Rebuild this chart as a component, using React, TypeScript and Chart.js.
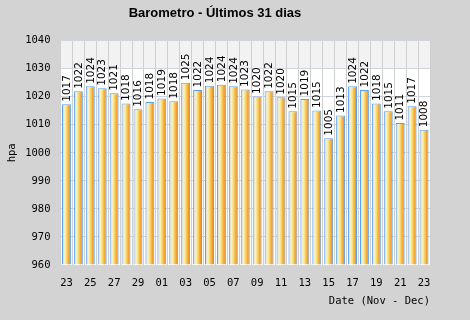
import React, { useEffect, useRef } from "react";
import { Chart, registerables } from "chart.js";

Chart.register(...registerables);

const dates = [
  "23", "24", "25", "26", "27", "28", "29", "30",
  "01", "02", "03", "04", "05", "06", "07", "08", "09", "10",
  "11", "12", "13", "14", "15", "16", "17", "18", "19", "20",
  "21", "22", "23",
];

const pressure = [
  1017.3, 1021.9, 1023.7, 1023.0, 1021.2, 1017.6, 1015.5, 1018.1,
  1019.4, 1018.4, 1025.0, 1022.4, 1023.9, 1024.3, 1023.7, 1022.6,
  1020.1, 1021.9, 1019.8, 1014.8, 1019.2, 1015.1, 1005.2, 1013.3,
  1023.7, 1022.4, 1017.6, 1014.8, 1010.6, 1016.6, 1008.2,
];

const yMin = 960;
const yMax = 1040;
const yStep = 10;

const titleText = "Barometro - Últimos 31 dias";
const yTitle = "hpa";
const xTitle = "Date (Nov - Dec)";

const bandPlugin = {
  id: "bands",
  beforeDraw(chart: any) {
    const { ctx, chartArea, scales } = chart;
    if (!chartArea) return;
    ctx.save();
    ctx.fillStyle = "#d3d3d3";
    ctx.fillRect(0, 0, chart.width, chart.height);
    ctx.fillStyle = "#ffffff";
    ctx.fillRect(chartArea.left, chartArea.top, chartArea.right - chartArea.left, chartArea.bottom - chartArea.top);
    const y = scales.y;
    const yTop = y.getPixelForValue(yMax - yMin);
    const yB = y.getPixelForValue(yMax - yMin - yStep);
    ctx.fillStyle = "#f2f2f2";
    ctx.fillRect(chartArea.left, yTop, chartArea.right - chartArea.left, yB - yTop);
    ctx.restore();
  },
};

const gradientPlugin = {
  id: "barGradient",
  beforeDatasetsDraw(chart: any) {
    const { ctx } = chart;
    const meta = chart.getDatasetMeta(0);
    meta.data.forEach((bar: any) => {
      const w = bar.width;
      if (!Number.isFinite(bar.x) || !Number.isFinite(w)) return;
      const g = ctx.createLinearGradient(bar.x - w / 2 + 1, 0, bar.x + w / 2 - 1, 0);
      g.addColorStop(0, "#dcdcdc");
      g.addColorStop(0.25, "#f8f4c0");
      g.addColorStop(0.5, "#f8dc78");
      g.addColorStop(0.75, "#f8b444");
      g.addColorStop(1, "#f09020");
      bar.options.backgroundColor = g;
    });
  },
};

const valueLabelPlugin = {
  id: "valueLabels",
  afterDatasetsDraw(chart: any) {
    const { ctx } = chart;
    const meta = chart.getDatasetMeta(0);
    ctx.save();
    ctx.font = "10.5px 'DejaVu Sans'";
    ctx.fillStyle = "#000000";
    ctx.textAlign = "left";
    ctx.textBaseline = "middle";
    meta.data.forEach((bar: any, i: number) => {
      const v = Math.round(pressure[i]);
      ctx.save();
      ctx.translate(bar.x + 0.5, bar.y - 2.5);
      ctx.rotate(-Math.PI / 2);
      ctx.fillText(String(v), 0, 0);
      ctx.restore();
    });
    ctx.restore();
  },
};

export default function App() {
  const ref = useRef<HTMLCanvasElement | null>(null);

  useEffect(() => {
    document.body.style.margin = "0";
    const canvas = ref.current;
    if (!canvas) return;
    const chart = new Chart(canvas, {
      type: "bar",
      data: {
        labels: dates,
        datasets: [
          {
            data: pressure.map((v) => v - yMin),
            backgroundColor: (c: any) => (c.dataIndex % 2 === 0 ? "#f5c050" : "#f5c051"),
            borderColor: "#5aa0f0",
            borderWidth: 1,
            categoryPercentage: 1,
            barPercentage: 0.75,
          } as any,
        ],
      },
      options: {
        animation: false,
        responsive: false,
        devicePixelRatio: 1,
        layout: { padding: { left: 0, right: 40, top: 0, bottom: 0 } },
        plugins: {
          legend: { display: false },
          tooltip: { enabled: false },
          title: {
            display: true,
            text: titleText,
            color: "#000000",
            font: { family: "'Liberation Sans'", size: 13, weight: "bold" },
            padding: { top: 6, bottom: 19 },
          },
        },
        scales: {
          x: {
            offset: true,
            grid: { display: true, offset: true, color: "#cfcfcf", lineWidth: 1, drawTicks: false },
            border: { display: false },
            ticks: {
              autoSkip: false,
              maxRotation: 0,
              padding: 12,
              color: "#000000",
              font: { family: "'DejaVu Sans Mono'", size: 10.5 },
              callback: (_v: any, i: number) => (i % 2 === 0 ? dates[i] : ""),
            },
            title: {
              display: true,
              text: xTitle,
              align: "end",
              color: "#000000",
              font: { family: "'DejaVu Sans Mono'", size: 10.5 },
              padding: { top: 0, bottom: 12 },
            },
            afterFit: (s: any) => {
              s.height = 55;
            },
          },
          y: {
            min: 0,
            max: yMax - yMin,
            grid: { color: "#d0d4dc", lineWidth: 1, drawTicks: false },
            border: { display: false },
            ticks: {
              stepSize: yStep,
              padding: 10,
              color: "#000000",
              font: { family: "'DejaVu Sans Mono'", size: 10.5 },
              callback: (v: any) => String(Number(v) + yMin),
            },
            title: {
              display: true,
              text: yTitle,
              color: "#000000",
              font: { family: "'DejaVu Sans Mono'", size: 10.5 },
              padding: { top: 6, bottom: 0 },
            },
            afterFit: (s: any) => {
              s.width = 60.5;
            },
          },
        },
      },
      plugins: [bandPlugin, gradientPlugin, valueLabelPlugin],
    } as any);
    return () => chart.destroy();
  }, []);

  return <canvas ref={ref} width={470} height={320} style={{ display: "block" }} />;
}
